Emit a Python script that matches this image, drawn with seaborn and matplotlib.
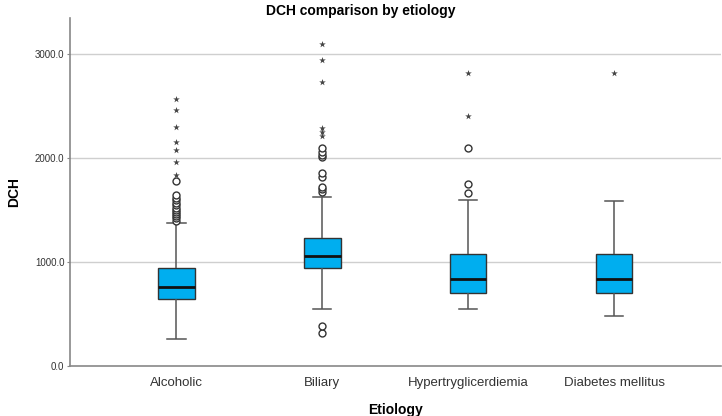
import matplotlib
matplotlib.use("Agg")
import matplotlib.pyplot as plt
import seaborn as sns
import pandas as pd

categories = ["Alcoholic", "Biliary", "Hypertryglicerdiemia", "Diabetes mellitus"]

# five-number summaries: lower whisker, Q1, median, Q3, upper whisker
alcoholic_box = [260, 644, 763, 945, 1372]
biliary_box = [545, 945, 1058, 1228, 1628]
hypertg_box = [551, 699, 840, 1077, 1596]
diabetes_box = [481, 705, 837, 1077, 1590]

# outliers (circles) and extreme values (stars)
alcoholic_circles = [1394, 1420, 1440, 1460, 1480, 1500, 1520, 1545, 1570, 1600, 1620, 1644, 1779]
alcoholic_stars = [1837, 1965, 2077, 2151, 2301, 2462, 2567]
biliary_circles = [317, 385, 1676, 1700, 1724, 1821, 1859, 2006, 2029, 2061, 2096]
biliary_stars = [2212, 2254, 2292, 2734, 2942, 3096]
hypertg_circles = [1660, 1747, 2099]
hypertg_stars = [2404, 2814]
diabetes_circles = []
diabetes_stars = [2814]

yticks = [0, 1000, 2000, 3000]

plt.rcParams["font.family"] = ["Liberation Sans", "DejaVu Sans"]

boxes = {categories[0]: alcoholic_box, categories[1]: biliary_box,
         categories[2]: hypertg_box, categories[3]: diabetes_box}
circles = {categories[0]: alcoholic_circles, categories[1]: biliary_circles,
           categories[2]: hypertg_circles, categories[3]: diabetes_circles}
stars = {categories[0]: alcoholic_stars, categories[1]: biliary_stars,
         categories[2]: hypertg_stars, categories[3]: diabetes_stars}

box_df = pd.DataFrame([(c, v) for c in categories for v in boxes[c]], columns=["Etiology", "DCH"])
circ_df = pd.DataFrame([(c, v) for c in categories for v in circles[c]], columns=["Etiology", "DCH"])
star_df = pd.DataFrame([(c, v) for c in categories for v in stars[c]], columns=["Etiology", "DCH"])

fig = plt.figure(figsize=(7.22, 4.16), dpi=100)
ax = fig.add_axes([70 / 722, 50 / 416, 1 - 70 / 722 - 0.002, (366 - 18) / 416])

for y in yticks[1:]:
    ax.axhline(y, color="#cfcfcf", lw=1, zorder=0)

sns.boxplot(data=box_df, x="Etiology", y="DCH", order=categories, whis=(0, 100),
            width=0.25, color="#00AEEF", saturation=1, fliersize=0, ax=ax,
            boxprops=dict(edgecolor="#333333", linewidth=1, facecolor="#00AEEF"),
            medianprops=dict(color="#111111", linewidth=2),
            whiskerprops=dict(color="#555555", linewidth=1.1),
            capprops=dict(color="#555555", linewidth=1.1))

sns.stripplot(data=circ_df, x="Etiology", y="DCH", order=categories, jitter=False,
              marker="o", color="white", edgecolor="#333333", linewidth=1, size=5, ax=ax)
ax.collections[-1].set_facecolor("none")
sns.stripplot(data=star_df, x="Etiology", y="DCH", order=categories, jitter=False,
              marker="*", color="#444444", linewidth=0, size=5, ax=ax)

ax.set_xlim(-0.73, 3.73)
ax.set_ylim(0, 3346)
ax.set_yticks(yticks)
ax.set_yticklabels([f"{v:.1f}" for v in yticks], fontsize=7, color="#333333")
ax.tick_params(axis="y", length=2, color="#888888", pad=2)
ax.tick_params(axis="x", length=0, labelsize=9.5, labelcolor="#333333", pad=8)
for s in ["top", "right"]:
    ax.spines[s].set_visible(False)
for s in ["left", "bottom"]:
    ax.spines[s].set_color("#888888")
    ax.spines[s].set_linewidth(1.2)
ax.set_xlabel("Etiology", fontsize=10, fontweight="bold", labelpad=10)
ax.set_ylabel("DCH", fontsize=10, fontweight="bold", labelpad=10)
fig.text(0.5, 1 - 11 / 416, "DCH comparison by etiology", ha="center", va="center",
         fontsize=10, fontweight="bold")

fig.savefig("out.png", dpi=100)
